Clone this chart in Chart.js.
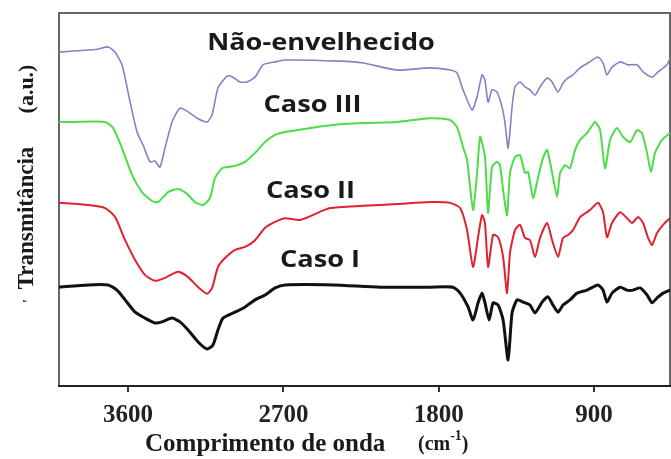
<!DOCTYPE html>
<html lang="pt">
<head>
<meta charset="utf-8">
<title>Espectros FTIR</title>
<script src="https://cdn.jsdelivr.net/npm/chart.js@4/dist/chart.umd.min.js"></script>
<style>
  html, body { margin: 0; padding: 0; background: #fff; }
  canvas { display: block; }
</style>
</head>
<body>
<canvas id="ftir" width="671" height="459"></canvas>
<script>
// Eixo x: número de onda (cm-1), eixo y: transmitância em unidades arbitrárias
const xTicks = [3600, 2700, 1800, 900];

const curveNames = ['Não-envelhecido', 'Caso III', 'Caso II', 'Caso I'];

// Não-envelhecido
const wnNao = [4000,3830,3775,3715,3675,3635,3588,3548,3513,3473,3444,3415,3386,3345,3299,3252,3200,3142,3113,3079,3026,2992,2951,2911,2864,2818,2748,2690,2372,2238,2041,1850,1734,1694,1659,1607,1578,1549,1532,1514,1491,1462,1433,1416,1398,1375,1358,1329,1300,1271,1242,1213,1172,1143,1109,1080,1051,1022,981,935,877,848,825,796,749,703,651,616,564,529,477,460];
const tNao = [89.5,90.1,90.3,90.9,89.5,86.1,76.1,68.1,64.6,60.1,60.3,58.7,63.8,70.8,74.5,73.5,71.8,70.8,72.7,79.9,83.1,82.8,81.5,81.5,82.8,86.1,86.9,87.4,87.1,86.6,84.7,85.3,84.7,83.9,79.4,74.0,77.5,83.4,82.0,76.1,79.4,78.8,74.8,70.5,63.8,74.8,80.2,81.5,80.2,79.4,78.0,80.2,82.6,81.5,78.8,81.2,82.6,83.4,85.3,86.6,88.2,86.6,83.4,85.5,86.9,86.1,86.1,84.2,82.8,84.2,86.1,87.9];

// Caso III
const wnCaso3 = [4000,3924,3733,3687,3635,3577,3519,3461,3426,3368,3310,3258,3212,3165,3125,3096,3055,3021,2968,2922,2864,2806,2748,2690,2412,2238,2041,1850,1734,1694,1659,1636,1601,1578,1560,1532,1514,1491,1462,1445,1427,1404,1387,1358,1329,1300,1282,1253,1224,1196,1172,1143,1114,1097,1068,1039,1010,981,941,894,865,836,807,767,732,691,651,622,593,570,547,506,460];
const tCaso3 = [70.8,70.8,70.8,69.2,63.8,56.6,52.0,49.6,49.3,52.0,52.8,51.5,49.3,48.5,50.4,55.8,58.4,58.7,59.2,60.1,62.5,65.4,67.3,68.1,70.0,70.5,70.8,71.8,71.3,69.4,64.1,60.6,47.2,57.1,66.8,61.4,46.4,58.7,60.1,59.2,52.5,45.8,57.1,61.4,61.9,57.1,57.4,50.4,56.0,61.1,63.3,57.1,50.7,57.1,59.2,58.4,63.3,66.0,67.8,70.8,68.6,58.4,66.0,69.2,66.8,65.4,68.6,67.8,62.5,57.4,62.5,66.0,67.8];

// Caso II
const wnCaso2 = [4000,3832,3733,3675,3617,3559,3502,3444,3386,3310,3252,3194,3142,3113,3079,3038,2980,2922,2864,2806,2748,2690,2603,2430,2238,2041,1850,1734,1676,1636,1601,1572,1549,1532,1514,1485,1456,1427,1404,1387,1358,1329,1300,1271,1242,1213,1172,1143,1109,1080,1051,1022,981,923,877,848,825,796,749,709,680,645,616,587,564,535,500,460];
const tCaso2 = [49.1,48.5,47.7,45.3,39.1,33.8,29.8,28.2,29.0,30.6,29.2,26.5,24.7,26.3,31.9,34.3,36.5,37.3,39.1,42.4,44.0,45.0,44.5,47.7,48.3,48.8,49.3,49.1,47.7,41.8,31.9,39.9,45.8,43.7,31.9,40.5,39.9,34.6,24.9,35.7,41.8,43.2,39.7,39.1,34.6,39.7,43.7,39.1,34.6,39.7,40.5,41.8,45.3,47.2,49.1,46.6,39.9,43.7,46.6,45.0,43.7,45.3,43.7,39.7,37.8,41.0,43.2,45.0];

// Caso I
const wnCaso1 = [4000,3832,3716,3664,3617,3559,3502,3444,3403,3345,3299,3252,3194,3142,3108,3079,3050,2980,2922,2864,2806,2748,2690,2412,2140,1850,1717,1676,1630,1601,1572,1549,1532,1508,1485,1456,1427,1398,1375,1346,1311,1271,1242,1201,1167,1138,1109,1080,1039,999,941,877,848,825,796,749,709,674,633,593,564,535,500,460];
const tCaso1 = [26.5,27.1,27.1,25.7,23.1,19.8,18.2,16.9,17.2,18.2,17.2,15.0,11.8,9.9,11.0,15.0,18.2,19.8,21.2,23.1,24.4,26.3,27.1,27.1,26.5,26.5,26.5,24.9,21.2,17.7,22.3,24.9,22.3,17.7,22.3,21.7,17.7,7.0,19.6,23.1,22.5,21.7,19.6,22.5,23.9,21.7,19.8,21.7,23.1,24.9,25.7,27.1,25.7,22.5,24.9,26.5,25.7,25.7,26.3,24.4,22.3,23.6,24.9,25.7];

const toPoints = (wn, t) => wn.map((w, i) => ({ x: w, y: t[i] }));

// Posição de cada rótulo de curva (número de onda, transmitância do centro do texto)
const labelAnchors = [
  { wn: 2482, t: 92.2 },
  { wn: 2531, t: 75.6 },
  { wn: 2543, t: 52.5 },
  { wn: 2488, t: 34.0 }
];

const decorations = {
  id: 'decorations',
  beforeDatasetsDraw(chart) {
    const { ctx, chartArea: a } = chart;
    ctx.save();
    ctx.lineWidth = 2;
    ctx.strokeStyle = '#666';
    ctx.beginPath();
    ctx.moveTo(a.left, a.bottom);
    ctx.lineTo(a.left, a.top);
    ctx.lineTo(a.right, a.top);
    ctx.lineTo(a.right, a.bottom);
    ctx.stroke();
    ctx.strokeStyle = '#222';
    ctx.beginPath();
    ctx.moveTo(a.left - 1, a.bottom);
    ctx.lineTo(a.right + 1, a.bottom);
    ctx.stroke();
    ctx.restore();
  },
  afterDraw(chart) {
    const { ctx, chartArea: a, scales: { x, y } } = chart;
    ctx.save();
    ctx.fillStyle = '#1a1a1a';

    // rótulos das curvas
    ctx.font = 'bold 23px "Open Sans"';
    ctx.textAlign = 'center';
    ctx.textBaseline = 'alphabetic';
    curveNames.forEach((name, i) => {
      const px = x.getPixelForValue(labelAnchors[i].wn);
      const py = y.getPixelForValue(labelAnchors[i].t);
      ctx.save();
      ctx.translate(px, py + 8.3);
      ctx.scale(1.18, 1);
      ctx.fillText(name, 0, 0);
      ctx.restore();
    });

    // título do eixo x
    ctx.textAlign = 'left';
    ctx.font = 'bold 25px "Liberation Serif"';
    const bx = a.left + 86;
    const by = a.bottom + 65;
    ctx.fillText('Comprimento de onda', bx, by);
    ctx.font = 'bold 20px "Liberation Serif"';
    let cx = a.left + 359;
    ctx.fillText('(cm', cx, by - 1);
    cx += ctx.measureText('(cm').width;
    ctx.font = 'bold 14px "Liberation Serif"';
    ctx.fillText('-1', cx, by - 11);
    cx += ctx.measureText('-1').width;
    ctx.font = 'bold 20px "Liberation Serif"';
    ctx.fillText(')', cx, by - 1);

    // título do eixo y
    ctx.save();
    ctx.translate(27, 0);
    ctx.rotate(-Math.PI / 2);
    ctx.textAlign = 'center';
    ctx.textBaseline = 'middle';
    ctx.font = 'bold 23px "Liberation Serif"';
    ctx.fillText('Transmitância', -218, 0);
    ctx.font = 'bold 22px "Liberation Serif"';
    ctx.fillText('(a.u.)', -89, 0);
    ctx.font = 'bold 14px "Liberation Serif"';
    ctx.fillText('\'', -301, 2);
    ctx.restore();

    ctx.restore();
  }
};

const line = (label, wn, t, color, width) => ({
  label,
  data: toPoints(wn, t),
  borderColor: color,
  borderWidth: width,
  pointRadius: 0,
  tension: 0.2,
  borderJoinStyle: 'round',
  borderCapStyle: 'round',
  fill: false
});

new Chart(document.getElementById('ftir'), {
  type: 'line',
  data: {
    datasets: [
      line(curveNames[3], wnCaso1, tCaso1, '#111111', 3),
      line(curveNames[2], wnCaso2, tCaso2, '#de2230', 2),
      line(curveNames[1], wnCaso3, tCaso3, '#4ddc4a', 2),
      line(curveNames[0], wnNao, tNao, '#8282c4', 1.6)
    ]
  },
  options: {
    responsive: false,
    animation: false,
    events: [],
    layout: { padding: { left: 59, right: 1, top: 13, bottom: 0 } },
    plugins: { legend: { display: false }, tooltip: { enabled: false } },
    scales: {
      x: {
        type: 'linear',
        reverse: true,
        min: 460,
        max: 4000,
        afterBuildTicks: s => { s.ticks = xTicks.map(v => ({ value: v })); },
        afterFit: s => { s.height = 73; },
        grid: { display: true, drawOnChartArea: false, drawTicks: true, tickLength: 6, color: '#333', lineWidth: 2 },
        border: { display: false },
        ticks: {
          autoSkip: false,
          maxRotation: 0,
          padding: 9,
          color: '#222',
          font: { family: 'Liberation Serif', size: 25, weight: 'bold', lineHeight: 1.2 },
          callback: v => String(v)
        }
      },
      y: {
        display: false,
        min: 0,
        max: 100
      }
    }
  },
  plugins: [decorations]
});
</script>
</body>
</html>
